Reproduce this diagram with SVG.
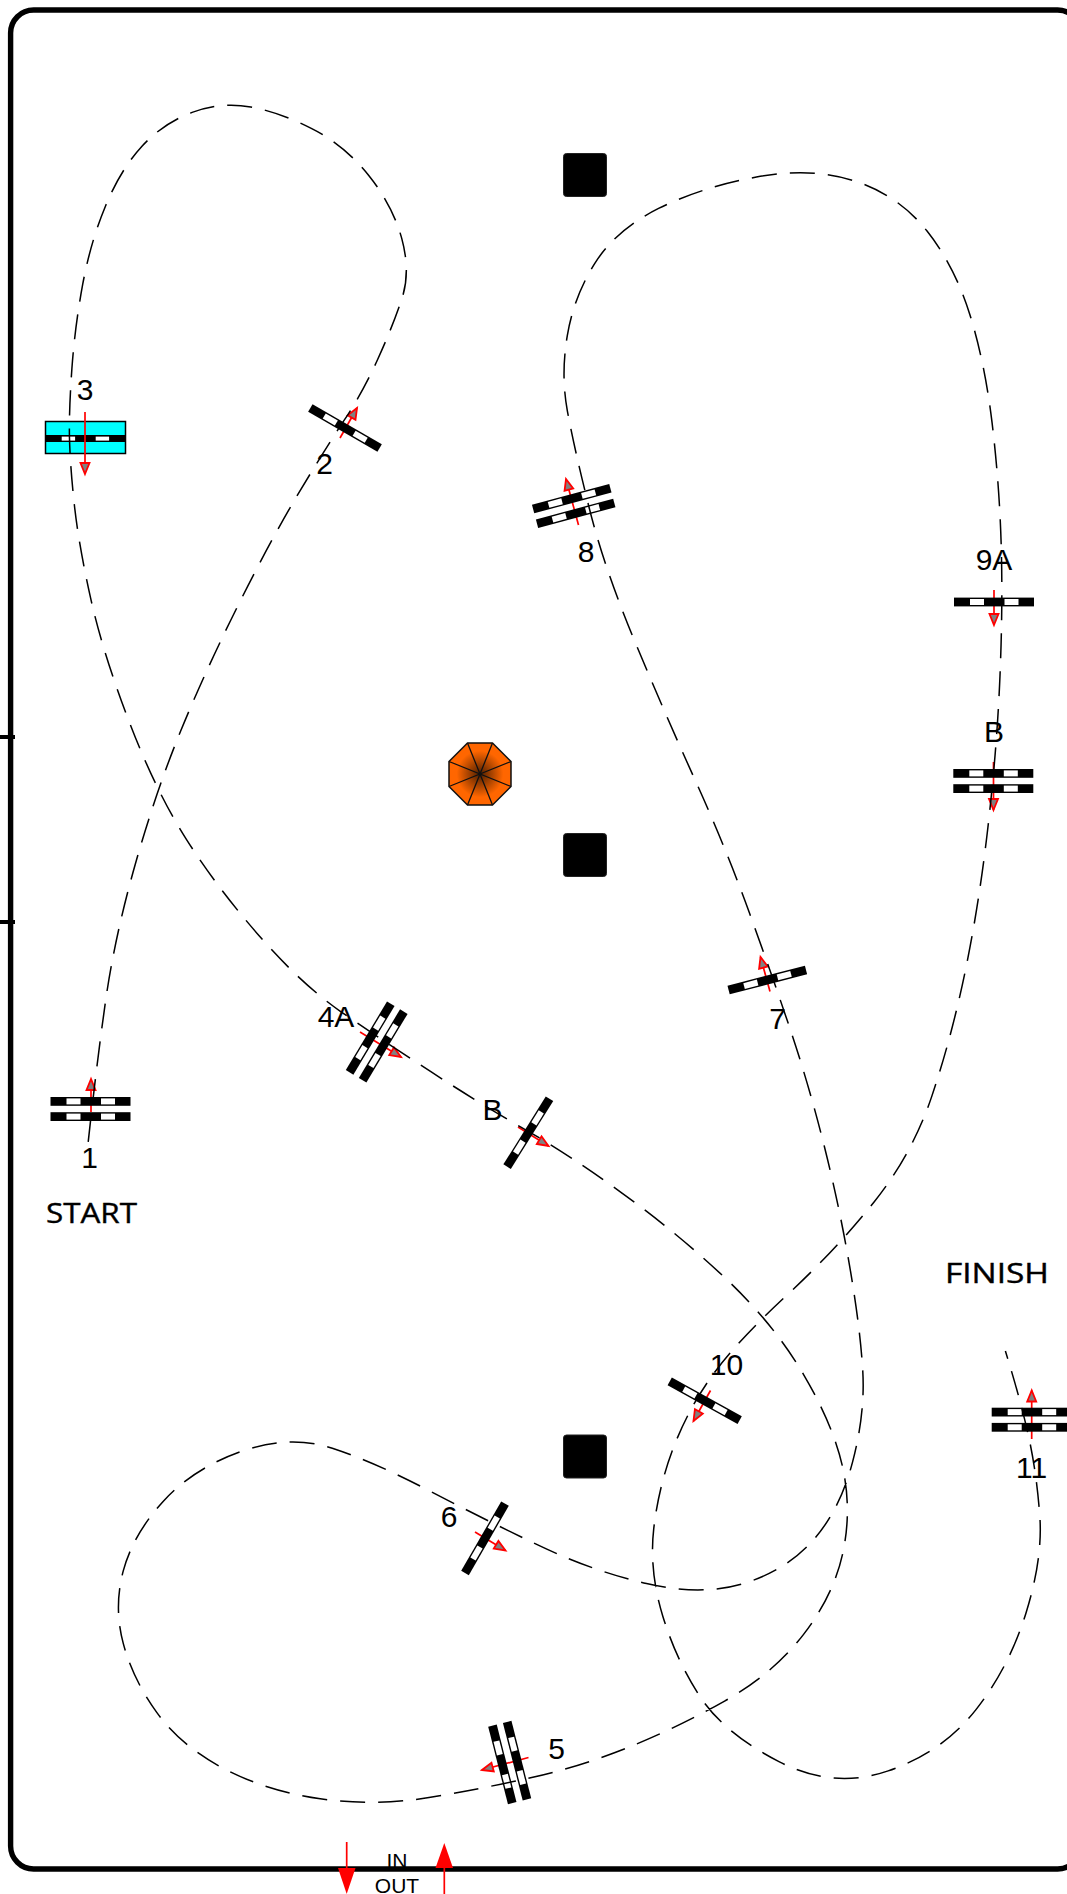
<svg xmlns="http://www.w3.org/2000/svg" width="1067" height="1894" viewBox="0 0 1067 1894">
<style>
.frame{fill:none;stroke:#000;stroke-width:5.4}
.tick{stroke:#000;stroke-width:4}
.bar{fill:#000}
.win{fill:#fff}
.dir{stroke:#f00;stroke-width:1.7;fill:none;marker-end:url(#head)}
.solid{stroke:#f00;stroke-width:1.7;fill:none}
.headfill{fill:#f00}
.lbl{font-family:"Liberation Sans",Arial,sans-serif;font-size:30px;fill:#000;text-anchor:middle}
.small{font-family:"Liberation Sans",Arial,sans-serif;font-size:21px;fill:#000;text-anchor:middle}
.hand{font-family:"Open Sans","Noto Sans",sans-serif;font-size:28px;fill:#000;stroke:#000;stroke-width:.4}
.post{fill:#000;stroke:#222;stroke-width:1}
.oct{stroke:#111;stroke-width:1.5;fill:url(#orange);stroke-linejoin:round}
.spoke{stroke:#111;stroke-width:1.3}
.course{fill:none;stroke:#000;stroke-width:1.25;stroke-dasharray:20.7 10.8}
</style>
<defs>
<marker id="head" markerUnits="userSpaceOnUse" markerWidth="16" markerHeight="14" refX="13" refY="6.5" orient="auto" viewBox="0 0 16 14">
<path d="M13 6.5L2 2L2 11Z" fill="#808080" stroke="#f00" stroke-width="1.8"/>
</marker>
<radialGradient id="orange" gradientUnits="userSpaceOnUse" cx="480" cy="774" r="31">
<stop offset="0" stop-color="#4d1f00"/>
<stop offset="0.75" stop-color="#ff6600"/>
<stop offset="1" stop-color="#ff6600"/>
</radialGradient>
<g id="bar1">
<rect class="bar" x="-40" y="-4.4" width="80" height="8.8"/>
<rect class="win" x="-24" y="-3" width="14" height="6"/>
<rect class="win" x="10.5" y="-3" width="14" height="6"/>
</g>
<g id="bar2">
<use href="#bar1" y="-7.6"/>
<use href="#bar1" y="7.6"/>
</g>
</defs>

<g id="frame">
<rect class="frame" x="10.6" y="10" width="1070" height="1859" rx="23" ry="23"/>
<line class="tick" x1="0" y1="737" x2="15" y2="737"/>
<line class="tick" x1="0" y1="922" x2="15" y2="922"/>
</g>

<g id="post-top"><rect class="post" x="563.5" y="153.5" width="43" height="43" rx="3"/></g>
<g id="post-middle"><rect class="post" x="563.5" y="833.5" width="43" height="43" rx="3"/></g>
<g id="post-bottom"><rect class="post" x="563.5" y="1435" width="43" height="43" rx="3"/></g>

<g id="cone">
<polygon class="oct" points="467.5,743 492.5,743 511,761.5 511,786.5 492.5,805 467.5,805 449,786.5 449,761.5"/>
<path class="spoke" d="M467.5 743L492.5 805M492.5 743L467.5 805M511 761.5L449 786.5M511 786.5L449 761.5"/>
</g>

<g id="gate-1">
<line class="dir" x1="91" y1="1112" x2="91" y2="1079"/>
<use href="#bar2" x="90.5" y="1109"/>
<text class="lbl" x="89.5" y="1168">1</text>
</g>
<text id="start-label" class="hand" x="46" y="1223" textLength="91" lengthAdjust="spacingAndGlyphs">START</text>

<g id="gate-2">
<line class="dir" x1="340" y1="438" x2="357" y2="408"/>
<use href="#bar1" transform="translate(345 428) rotate(30)"/>
<text class="lbl" x="324.5" y="474">2</text>
</g>

<g id="gate-3">
<rect x="45.5" y="421.5" width="80" height="32" fill="#00ffff" stroke="#000" stroke-width="1.5"/>
<rect class="bar" x="45" y="435" width="80" height="7"/>
<rect class="win" x="61.7" y="436.6" width="13.4" height="4"/>
<rect class="win" x="95.7" y="436.6" width="13.4" height="4"/>
<line class="dir" x1="85" y1="412" x2="85" y2="474"/>
<text class="lbl" x="85" y="400">3</text>
</g>

<g id="gate-4A">
<line class="dir" x1="360" y1="1032" x2="401" y2="1057"/>
<use href="#bar2" transform="translate(376.7 1042) rotate(-59)"/>
<text class="lbl" x="336" y="1026.5">4A</text>
</g>

<g id="gate-4B">
<line class="dir" x1="518" y1="1127" x2="548.5" y2="1146"/>
<use href="#bar1" transform="translate(528.3 1132.7) rotate(-58)"/>
<text class="lbl" x="492.5" y="1120">B</text>
</g>

<g id="gate-5">
<line class="dir" x1="528.5" y1="1757.5" x2="482" y2="1770"/>
<use href="#bar2" transform="translate(509.7 1762.5) rotate(75.7)"/>
<text class="lbl" x="556.5" y="1759">5</text>
</g>

<g id="gate-6">
<line class="dir" x1="475" y1="1532" x2="505.5" y2="1550.5"/>
<use href="#bar1" transform="translate(485 1538.3) rotate(-60)"/>
<text class="lbl" x="449" y="1526.5">6</text>
</g>

<g id="gate-7">
<line class="dir" x1="770" y1="991.5" x2="760.5" y2="957"/>
<use href="#bar1" transform="translate(767.3 980) rotate(-14.6)"/>
<text class="lbl" x="777.5" y="1029">7</text>
</g>

<g id="gate-8">
<line class="dir" x1="578.5" y1="525" x2="566" y2="479"/>
<use href="#bar2" transform="translate(573.7 506) rotate(-15)"/>
<text class="lbl" x="586" y="561.5">8</text>
</g>

<g id="gate-9A">
<line class="dir" x1="994" y1="590" x2="994" y2="625"/>
<use href="#bar1" x="994" y="602"/>
<text class="lbl" x="994" y="570">9A</text>
</g>

<g id="gate-9B">
<line class="dir" x1="993.5" y1="762" x2="993.5" y2="810"/>
<use href="#bar2" x="993.3" y="781"/>
<text class="lbl" x="994" y="742">B</text>
</g>

<g id="gate-10">
<line class="dir" x1="710.5" y1="1390.5" x2="693.5" y2="1421"/>
<use href="#bar1" transform="translate(704.7 1400.7) rotate(29)"/>
<text class="lbl" x="726.5" y="1375">10</text>
</g>

<g id="gate-11">
<line class="dir" x1="1031.7" y1="1439" x2="1031.7" y2="1390.5"/>
<use href="#bar2" x="1031.7" y="1419.7"/>
<text class="lbl" x="1031.5" y="1478">11</text>
</g>
<text id="finish-label" class="hand" x="945" y="1282.5" textLength="104" lengthAdjust="spacingAndGlyphs">FINISH</text>

<g id="entrance">
<line class="solid" x1="346.7" y1="1842" x2="346.7" y2="1870"/>
<polygon class="headfill" points="338,1868 355.5,1868 346.7,1894"/>
<line class="solid" x1="444.3" y1="1866" x2="444.3" y2="1894"/>
<polygon class="headfill" points="435.5,1868 453,1868 444.3,1843"/>
<text class="small" x="397" y="1868">IN</text>
<text class="small" x="397" y="1893">OUT</text>
</g>

<g id="connectors">
<path class="course" transform="scale(1.2084)" d="M73 945Q80 880 87.5 827.5Q95 775 112 715Q129 655 149.5 605Q170 555 197.5 500Q225 445 247.5 407.5Q270 370 285 347.5Q300 325 312.5 297.5Q325 270 332.5 247.5Q340 225 332.5 197.5Q325 170 305 145Q285 120 258 106.5Q232 93 207.5 88.5Q183 84 159 93Q135 102 117.5 121Q100 140 87.5 170Q75 200 68.5 235Q62 270 59.5 305Q57 340 57.5 362.5Q58 385 61.5 417.5Q65 450 75 495Q85 540 107 597.5Q129 655 154.5 695Q180 735 215 775Q250 815 282.5 837.5Q315 860 357.5 887.5Q400 915 435 935Q470 955 515 987.5Q560 1020 600 1057.5Q640 1095 665 1137.5Q690 1180 697.5 1215Q705 1250 697.5 1285Q690 1320 665 1352.5Q640 1385 600 1407.5Q560 1430 520 1446Q480 1462 440 1471Q400 1480 355 1487.5Q310 1495 265 1488.5Q220 1482 185 1463.5Q150 1445 130 1417.5Q110 1390 102 1360Q94 1330 102 1300Q110 1270 135 1242.5Q160 1215 200 1201Q240 1187 275 1198.5Q310 1210 355 1233.5Q400 1257 445 1278.5Q490 1300 535 1310.5Q580 1321 615 1310.5Q650 1300 672.5 1275Q695 1250 705.5 1210Q716 1170 714 1135Q712 1100 703.5 1050Q695 1000 682.5 950Q670 900 655 855Q640 810 620 755Q600 700 575 645Q550 590 525 530Q500 470 487.5 420Q475 370 469.5 340Q464 310 469.5 277.5Q475 245 492.5 217.5Q510 190 545 172.5Q580 155 626 146.5Q672 138 708 150Q744 162 767 191Q790 220 802.5 260Q815 300 821 350Q827 400 828.5 450Q830 500 827.5 560Q825 620 817.5 685Q810 750 798.5 805Q787 860 771 907.5Q755 955 723.5 994.5Q692 1034 651 1072Q610 1110 590 1137.5Q570 1165 557.5 1197.5Q545 1230 541 1265Q537 1300 548.5 1337.5Q560 1375 580 1405Q600 1435 645 1458Q690 1481 735 1465.5Q780 1450 807.5 1415Q835 1380 849 1335Q863 1290 860.5 1255Q858 1220 851.5 1190Q845 1160 832 1118"/>
</g>
</svg>
